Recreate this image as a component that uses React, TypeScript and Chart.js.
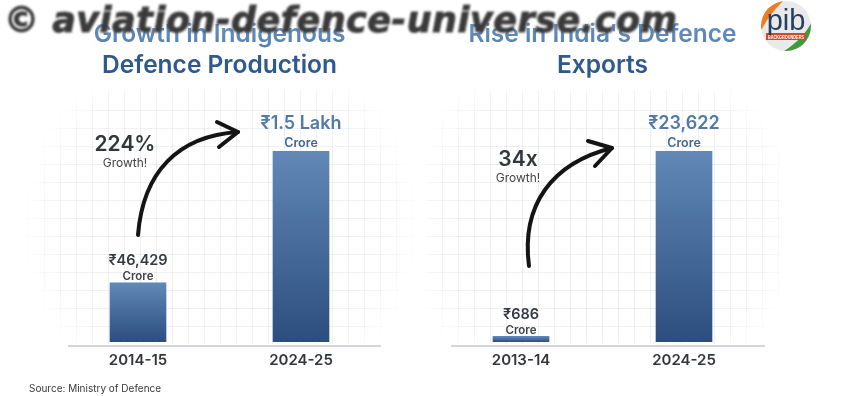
import React, { useEffect, useRef } from "react";
import { Chart, registerables } from "chart.js";

Chart.register(...registerables);

const FONT = "Inter, 'Noto Sans', sans-serif";

const productionYears = ["2014-15", "2024-25"];
const productionValues = [46429, 150000];
const productionLabels = ["₹46,429", "₹1.5 Lakh"];
const productionTitle = ["Growth in Indigenous", "Defence Production"];
const productionGrowth = ["224%", "Growth!"];

const exportYears = ["2013-14", "2024-25"];
const exportValues = [686, 23622];
const exportLabels = ["₹686", "₹23,622"];
const exportTitle = ["Rise in India's Defence", "Exports"];
const exportGrowth = ["34x", "Growth!"];

const unitLabel = "Crore";
const sourceNote = "Source: Ministry of Defence";
const watermark = "© aviation-defence-universe.com";

type Cfg = {
  ox: number;
  width: number;
  padLeft: number;
  padRight: number;
  years: string[];
  values: number[];
  labels: string[];
  title: string[];
  growth: string[];
  growthPos: { x: number; y: number; y2: number };
  arrow: { sx: number; sy: number; c1x: number; c1y: number; c2x: number; c2y: number; ex: number; ey: number; h1x: number; h1y: number; h2x: number; h2y: number };
  axis: [number, number];
  gridCx: number;
  gridFirstX: number;
  source?: string;
};

const annotationPlugin = {
  id: "annotate",
  beforeDatasetsDraw(chart: any, _a: any, o: any) {
    const c: Cfg = o.cfg;
    const { ctx } = chart;
    ctx.save();
    ctx.lineWidth = 1;
    const cx = c.gridCx - c.ox;
    const cy = 225;
    const g = ctx.createRadialGradient(cx, cy, 90, cx, cy, 200);
    g.addColorStop(0, "rgba(120,125,135,0.12)");
    g.addColorStop(0.7, "rgba(120,125,135,0.09)");
    g.addColorStop(1, "rgba(120,125,135,0)");
    ctx.strokeStyle = g;
    for (let x = c.gridFirstX - c.ox; x < cx + 210; x += 16) {
      ctx.beginPath();
      ctx.moveTo(x + 0.5, 90);
      ctx.lineTo(x + 0.5, 344);
      ctx.stroke();
    }
    for (let y = 110; y < 344; y += 18) {
      ctx.beginPath();
      ctx.moveTo(cx - 205, y + 0.5);
      ctx.lineTo(cx + 205, y + 0.5);
      ctx.stroke();
    }
    ctx.restore();
  },
  afterDatasetsDraw(chart: any, _a: any, o: any) {
    const c: Cfg = o.cfg;
    const { ctx } = chart;
    const bars = chart.getDatasetMeta(0).data;
    const bottom = chart.chartArea.bottom;
    ctx.save();

    // baseline
    ctx.strokeStyle = "#d3d5d8";
    ctx.lineWidth = 2;
    ctx.beginPath();
    ctx.moveTo(c.axis[0] - c.ox, bottom + 4);
    ctx.lineTo(c.axis[1] - c.ox, bottom + 4);
    ctx.stroke();

    // value labels
    ctx.textAlign = "center";
    ctx.textBaseline = "middle";
    bars.forEach((b: any, i: number) => {
      const big = i === 1;
      ctx.fillStyle = big ? "#5379a8" : "#333a42";
      ctx.font = `600 ${big ? 18 : 14.5}px ${FONT}`;
      ctx.fillText(c.labels[i], b.x, b.y - (big ? 27 : 22));
      ctx.fillStyle = big ? "#3f6896" : "#3c4248";
      ctx.font = `600 ${big ? 12.5 : 11.5}px ${FONT}`;
      ctx.fillText(unitLabel, b.x, b.y - (big ? 8 : 6));
    });

    // growth note
    ctx.fillStyle = "#33373c";
    ctx.font = `600 21px ${FONT}`;
    ctx.fillText(c.growth[0], c.growthPos.x - c.ox, c.growthPos.y);
    ctx.fillStyle = "#444";
    ctx.font = `400 12px ${FONT}`;
    ctx.fillText(c.growth[1], c.growthPos.x - c.ox, c.growthPos.y2);

    // arrow
    const a = c.arrow;
    const dx = -c.ox;
    ctx.strokeStyle = "#141414";
    ctx.lineCap = "round";
    ctx.lineJoin = "round";
    ctx.lineWidth = 4;
    ctx.beginPath();
    ctx.moveTo(a.sx + dx, a.sy);
    ctx.bezierCurveTo(a.c1x + dx, a.c1y, a.c2x + dx, a.c2y, a.ex + dx, a.ey);
    ctx.stroke();
    ctx.beginPath();
    ctx.moveTo(a.h1x + dx, a.h1y);
    ctx.lineTo(a.ex + dx, a.ey);
    ctx.lineTo(a.h2x + dx, a.h2y);
    ctx.stroke();

    if (c.source) {
      ctx.textAlign = "left";
      ctx.fillStyle = "#3a3a3a";
      ctx.font = `400 10px ${FONT}`;
      ctx.fillText(c.source, 29, 389);
    }
    ctx.restore();
  },
};

const leftCfg: Cfg = {
  ox: 0,
  width: 446,
  padLeft: 56.5,
  padRight: 63.5,
  years: productionYears,
  values: productionValues,
  labels: productionLabels,
  title: productionTitle,
  growth: productionGrowth,
  growthPos: { x: 125, y: 145, y2: 163 },
  arrow: { sx: 138, sy: 235, c1x: 143, c1y: 172, c2x: 178, c2y: 136, ex: 238, ey: 132, h1x: 217, h1y: 122, h2x: 219, h2y: 147 },
  axis: [68, 381],
  gridCx: 221,
  gridFirstX: 28,
  source: sourceNote,
};

const rightCfg: Cfg = {
  ox: 426,
  width: 354,
  padLeft: 13.5,
  padRight: 14.5,
  years: exportYears,
  values: exportValues,
  labels: exportLabels,
  title: exportTitle,
  growth: exportGrowth,
  growthPos: { x: 518, y: 160, y2: 178 },
  arrow: { sx: 529, sy: 266, c1x: 521, c1y: 205, c2x: 552, c2y: 163, ex: 612, ey: 148, h1x: 588, h1y: 141, h2x: 595, h2y: 166 },
  axis: [451, 765],
  gridCx: 601,
  gridFirstX: 442,
};

function Panel({ cfg }: { cfg: Cfg }) {
  const ref = useRef<HTMLCanvasElement>(null);
  useEffect(() => {
    const canvas = ref.current!;
    const ctx2d = canvas.getContext("2d")!;
    // The title is painted with its origin moved to the first line's centre.
    const titleGrad = ctx2d.createLinearGradient(0, -10, 0, 44);
    titleGrad.addColorStop(0, "#6390c2");
    titleGrad.addColorStop(0.42, "#5680b0");
    titleGrad.addColorStop(0.58, "#2f5b8e");
    titleGrad.addColorStop(1, "#2d5789");
    const chart = new Chart(canvas, {
      type: "bar",
      data: {
        labels: cfg.years,
        datasets: [
          {
            data: cfg.values,
            barThickness: 56,
            backgroundColor: (c: any) => {
              const sc = c.chart.scales?.y;
              if (!sc || !c.chart.chartArea) return "#4a6f9f";
              const top = sc.getPixelForValue(c.raw);
              const g = c.chart.ctx.createLinearGradient(0, top, 0, sc.getPixelForValue(0));
              g.addColorStop(0, "#6188b6");
              g.addColorStop(1, "#2c4e7f");
              return g;
            },
          },
        ],
      },
      options: {
        responsive: false,
        animation: false,
        layout: { padding: { left: cfg.padLeft, right: cfg.padRight, bottom: 18, top: 0 } },
        scales: {
          x: {
            grid: { display: false, drawTicks: false },
            border: { display: false },
            ticks: { color: "#33373c", padding: 9, font: { family: FONT, size: 15, weight: 600 } },
          },
          y: { display: false, min: 0, max: Math.max(...cfg.values) },
        },
        plugins: {
          legend: { display: false },
          tooltip: { enabled: false },
          title: {
            display: true,
            text: cfg.title,
            color: titleGrad as any,
            font: { family: FONT, size: 24.5, weight: 600, lineHeight: 1.265 },
            padding: { top: 19, bottom: 70 },
          },
          annotate: { cfg },
        } as any,
      },
      plugins: [annotationPlugin],
    });
    return () => chart.destroy();
  }, [cfg]);
  return (
    <canvas
      ref={ref}
      width={cfg.width}
      height={396}
      style={{ position: "absolute", left: cfg.ox, top: 0, width: cfg.width, height: 396 }}
    />
  );
}

function Logo() {
  return (
    <svg width={54} height={54} viewBox="0 0 54 54" style={{ position: "absolute", left: 759, top: -1 }}>
      <defs>
        <clipPath id="disc">
          <circle cx="27" cy="27" r="25" />
        </clipPath>
      </defs>
      <g clipPath="url(#disc)">
        <rect width="54" height="54" fill="#e9e9e9" />
        <path d="M0 0 H26 C18 8 9 18 3 30 L0 32 Z" fill="#ee7d22" />
        <path d="M54 20 C48 34 38 44 22 54 H54 Z" fill="#3f9a3a" />
        <rect x="7" y="34" width="40" height="7" fill="#cf4a2a" />
      </g>
      <text x="27" y="31" textAnchor="middle" fontFamily="'Liberation Sans', sans-serif" fontSize="29" fill="#24405f">
        pib
      </text>
      <text x="27" y="39.6" textAnchor="middle" textLength="36" lengthAdjust="spacingAndGlyphs" fontFamily="'Liberation Sans', sans-serif" fontSize="5.4" fontWeight="700" fill="#fff">
        BACKGROUNDERS
      </text>
    </svg>
  );
}

export default function App() {
  return (
    <div style={{ position: "absolute", left: 0, top: 0, width: 852, height: 396, background: "#fff", overflow: "hidden" }}>
      <Panel cfg={leftCfg} />
      <Panel cfg={rightCfg} />
      <Logo />
      <div
        style={{
          position: "absolute",
          left: 4,
          top: -1,
          whiteSpace: "nowrap",
          fontFamily: "'DejaVu Sans', sans-serif",
          fontWeight: 700,
          fontStyle: "italic",
          fontSize: 35,
          letterSpacing: 0.5,
          lineHeight: "42px",
          color: "#3a3a3a",
          filter: "blur(0.8px)",
          WebkitTextStroke: "1px #4a4a4a",
        }}
      >
        {watermark}
      </div>
    </div>
  );
}
